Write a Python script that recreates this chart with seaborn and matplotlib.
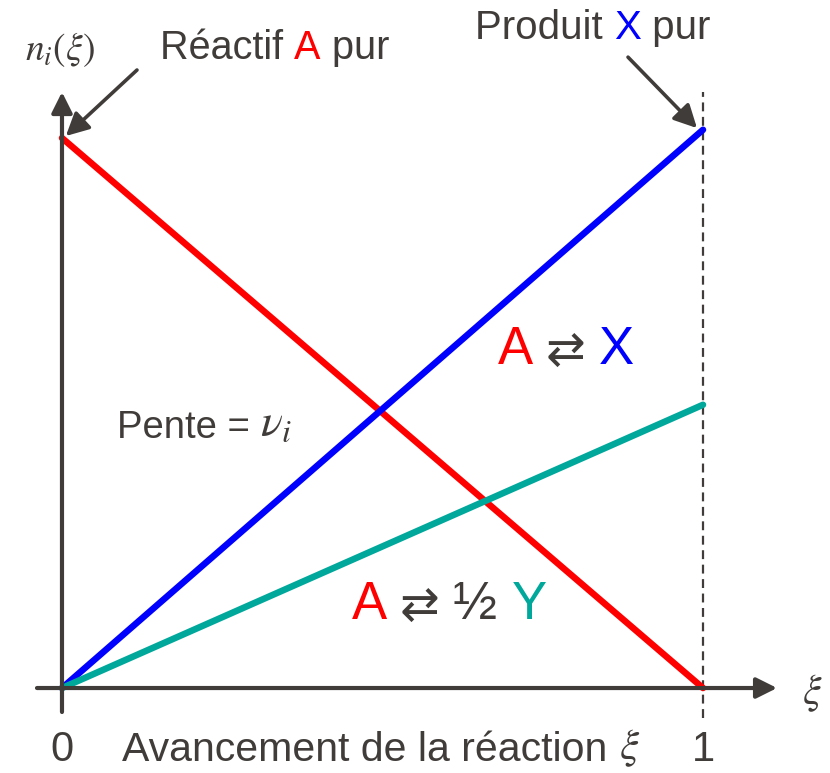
import seaborn as sns
import matplotlib.pyplot as plt
import numpy as np
import pandas as pd

# avancement et quantites de matiere (unites arbitraires)
xi = [0.0, 1.0]
n_A = [1.0, 0.0]      # reactif A
n_X = [0.0, 1.015]    # produit X (A -> X)
n_Y = [0.0, 0.515]    # produit Y (A -> 1/2 Y)

RED = "#FF0000"
BLUE = "#0000FF"
TEAL = "#00A89C"
GREY = "#403C3A"

sns.set_style("white")
plt.rcParams["font.family"] = ["Liberation Sans", "DejaVu Sans"]
plt.rcParams["mathtext.fontset"] = "stix"

df = pd.DataFrame({
    "xi": xi * 3,
    "n": n_A + n_X + n_Y,
    "espece": ["A"] * 2 + ["X"] * 2 + ["Y"] * 2,
})

fig = plt.figure(figsize=(8.3, 7.73), dpi=100)
ax = fig.add_axes([0, 0, 1, 1])

sns.lineplot(data=df, x="xi", y="n", hue="espece",
             palette={"A": RED, "X": BLUE, "Y": TEAL},
             linewidth=4.7, legend=False, ax=ax, zorder=3)

ax.set_xlim(-0.0967, 1.1981)
ax.set_ylim(-0.1545, 1.2509)
ax.axis("off")

# axes fleches
arr = dict(arrowstyle="-|>,head_length=0.5,head_width=0.25", color=GREY,
           lw=3, shrinkA=0, shrinkB=0, mutation_scale=25)
ax.annotate("", xy=(1.1155, 0), xytext=(-0.039, 0), arrowprops=arr)
ax.annotate("", xy=(0, 1.0836), xytext=(0, -0.0436), arrowprops=arr)
ax.vlines(xi[-1], -0.0545, 1.0836, colors=GREY, linestyles=(0, (4, 2.5)), lw=1.6)

# fleches d'annotation
arr2 = dict(arrowstyle="-|>,head_length=0.55,head_width=0.28", color=GREY,
            lw=2.6, shrinkA=0, shrinkB=0, mutation_scale=25)
ax.annotate("", xy=(0.006, 1.0036), xytext=(0.117, 1.1236), arrowprops=arr2)
ax.annotate("", xy=(0.9906, 1.018), xytext=(0.883, 1.147), arrowprops=arr2)


def multicolor(x, y, parts, size):
    t = ax.text(x, y, parts[0][0], color=parts[0][1], fontsize=size,
                ha="left", va="center")
    for p in parts[1:]:
        s, c = p[0], p[1]
        sz = p[2] if len(p) > 2 else size
        t = ax.annotate(s, xy=(1, 0), xycoords=t, color=c, fontsize=sz,
                        ha="left", va="bottom")
    return t


multicolor(0.153, 1.1636, [("Réactif ", GREY), ("A", RED), (" pur", GREY)], 28.5)
multicolor(0.6443, 1.2, [("Produit ", GREY), ("X", BLUE), (" pur", GREY)], 29)
multicolor(0.680, 0.6145, [("A", RED), (" ⇄ ", GREY, 34), ("X", BLUE)], 38)
multicolor(0.4524, 0.151, [("A", RED), (" ⇄ ", GREY, 34), ("½ ", GREY), ("Y", TEAL)], 38)

multicolor(0.0858, 0.4727, [("Pente = ", GREY), (r"$\nu_i$", GREY, 33)], 27.5)
ax.text(-0.003, 1.16, r"$n_i(\xi)$", color=GREY, fontsize=27,
        ha="center", va="center")
ax.text(1.170, -0.009, r"$\xi$", color=GREY, fontsize=30,
        ha="center", va="center")

ax.text(xi[0], -0.112, "0", color=GREY, fontsize=30, ha="center", va="center")
ax.text(xi[-1], -0.112, "1", color=GREY, fontsize=30, ha="center", va="center")
multicolor(0.0936, -0.112, [("Avancement de la réaction ", GREY),
                            (r"$\xi$", GREY, 31)], 29.5)

plt.savefig("out.png", dpi=100)
